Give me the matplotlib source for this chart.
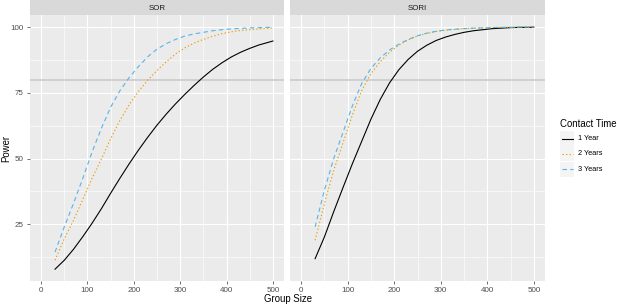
import matplotlib.pyplot as plt
from matplotlib.ticker import MultipleLocator
from matplotlib.patches import Rectangle

plt.rcParams['font.family'] = ['Liberation Sans', 'DejaVu Sans']

# group size grid (x) shared by every curve
group_size = [30, 50, 70, 90, 110, 130, 150, 170, 190, 210, 230, 250, 270,
              290, 310, 330, 350, 370, 390, 410, 430, 450, 470, 490, 500]

# power (%)
sor_1yr = [7.9, 11.3, 15.5, 20.3, 25.4, 30.9, 36.8, 42.5, 48.0, 53.2, 58.1, 62.7, 66.9,
           70.8, 74.4, 77.8, 81.0, 83.9, 86.4, 88.6, 90.4, 91.9, 93.2, 94.2, 94.7]
sor_2yr = [11.3, 19.5, 26.5, 34.5, 42.5, 49.8, 57.5, 64.5, 70.5, 75.5, 79.8, 83.5, 86.8,
           89.8, 92.1, 93.9, 95.3, 96.5, 97.5, 98.2, 98.7, 99.0, 99.3, 99.6, 99.7]
sor_3yr = [14.4, 24.0, 33.0, 42.5, 52.5, 61.5, 69.5, 75.8, 80.8, 85.0, 88.7, 91.6, 93.7,
           95.3, 96.6, 97.4, 98.0, 98.6, 99.0, 99.3, 99.5, 99.7, 99.8, 99.9, 99.9]

# power (%)
sori_1yr = [11.9, 20.2, 29.8, 39.0, 48.0, 56.5, 65.0, 72.5, 78.8, 83.8, 87.7, 90.8, 93.1,
            94.9, 96.2, 97.2, 98.0, 98.6, 99.0, 99.4, 99.6, 99.8, 99.9, 99.9, 100.0]
sori_2yr = [18.9, 32.9, 45.5, 56.0, 66.5, 75.8, 82.3, 86.9, 90.4, 93.1, 95.1, 96.6, 97.6,
            98.3, 98.8, 99.1, 99.4, 99.6, 99.7, 99.8, 99.9, 99.9, 100.0, 100.0, 100.0]
sori_3yr = [24.0, 38.0, 50.0, 60.0, 70.0, 78.5, 84.3, 88.3, 91.3, 93.5, 95.3, 96.7, 97.7,
            98.4, 98.9, 99.2, 99.4, 99.6, 99.7, 99.8, 99.9, 99.9, 100.0, 100.0, 100.0]

panels = ['SOR', 'SORI']
panel_data = [[sor_1yr, sor_2yr, sor_3yr], [sori_1yr, sori_2yr, sori_3yr]]
contact_labels = ['1 Year', '2 Years', '3 Years']
power_target = 80

colors = ['black', '#E69F00', '#56B4E9']
dashes = [None, (1.2, 2.0), (4.0, 3.0)]

W, H = 617, 305
fig = plt.figure(figsize=(W / 100, H / 100), dpi=100)


def px_axes(x0, y0, x1, y1):
    # axes placed by pixel box (top-left origin)
    return fig.add_axes([x0 / W, 1 - y1 / H, (x1 - x0) / W, (y1 - y0) / H])


def style_line(ln, d):
    if d is not None:
        ln.set_dashes(d)


boxes = [(30, 284), (290, 545)]
for i, (name, series) in enumerate(zip(panels, panel_data)):
    x0, x1 = boxes[i]
    ax = px_axes(x0, 15, x1, 281)
    ax.set_facecolor('#EBEBEB')
    for s in ax.spines.values():
        s.set_visible(False)
    ax.set_xlim(-24, 524)
    ax.set_ylim(3.4, 104.6)
    ax.xaxis.set_major_locator(MultipleLocator(100))
    ax.xaxis.set_minor_locator(MultipleLocator(50))
    ax.yaxis.set_major_locator(MultipleLocator(25))
    ax.yaxis.set_minor_locator(MultipleLocator(12.5))
    ax.set_axisbelow(True)
    ax.grid(which='major', color='white', lw=0.8)
    ax.grid(which='minor', color='white', lw=0.4)
    ax.tick_params(which='major', length=2.5, width=0.5, color='#333333',
                   labelsize=5.8, labelcolor='#4D4D4D', pad=2)
    ax.tick_params(which='minor', length=0)
    if i == 1:
        ax.tick_params(axis='y', left=False, labelleft=False)

    ax.axhline(power_target, color='#C8C8C8', lw=1.1, zorder=1.5)
    for vals, c, d, lab in zip(series, colors, dashes, contact_labels):
        ln, = ax.plot(group_size, vals, color=c, lw=0.8, label=lab, zorder=3)
        style_line(ln, d)

    # facet strip
    sax = px_axes(x0, 0, x1, 15)
    sax.set_facecolor('#D9D9D9')
    sax.set_xticks([])
    sax.set_yticks([])
    for s in sax.spines.values():
        s.set_visible(False)
    sax.text(0.5, 0.45, name, ha='center', va='center', fontsize=5.7,
             color='#1A1A1A', transform=sax.transAxes)

fig.text(6 / W, 1 - 148 / H, 'Power', rotation=90, ha='center', va='center', fontsize=6.9)
fig.text(287.5 / W, 1 - 299 / H, 'Group Size', ha='center', va='center', fontsize=6.9)

# legend drawn by hand in a pixel-space overlay
lax = px_axes(555, 110, 617, 180)
lax.set_xlim(555, 617)
lax.set_ylim(180, 110)
lax.axis('off')
lax.text(559.5, 124, 'Contact Time', ha='left', va='center', fontsize=6.9)
for k, (lab, c, d) in enumerate(zip(contact_labels, colors, dashes)):
    yc = 138.5 + k * 15.3
    lax.add_patch(Rectangle((560, yc - 7.5), 14, 15, facecolor='#F4F4F4', edgecolor='none'))
    ln, = lax.plot([561.5, 573], [yc, yc], color=c, lw=0.8)
    style_line(ln, d)
    lax.text(577.5, yc, lab, ha='left', va='center', fontsize=5.3)

fig.savefig('out.png', dpi=100)
